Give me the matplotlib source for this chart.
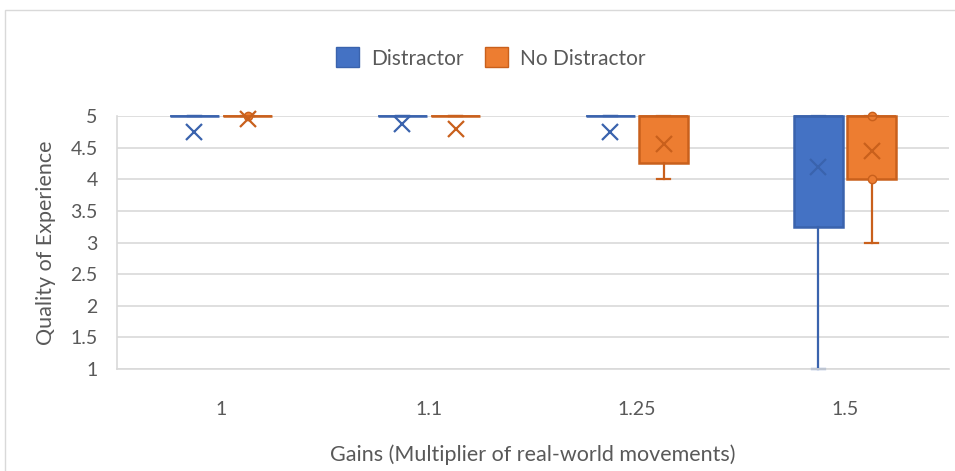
import matplotlib.pyplot as plt
from matplotlib.patches import Rectangle, Patch

plt.rcParams['font.family'] = ['Lato', 'DejaVu Sans']

gains = ['1', '1.1', '1.25', '1.5']

# box statistics per gain: Distractor
d_q1 = [5, 5, 5, 3.25]
d_med = [5, 5, 5, 5]
d_q3 = [5, 5, 5, 5]
d_lo = [5, 5, 5, 1]
d_hi = [5, 5, 5, 5]
d_mean = [4.75, 4.87, 4.75, 4.2]
d_pts = [[], [], [], []]

# box statistics per gain: No Distractor
n_q1 = [5, 5, 4.25, 4]
n_med = [5, 5, 5, 5]
n_q3 = [5, 5, 5, 5]
n_lo = [5, 5, 4, 3]
n_hi = [5, 5, 5, 5]
n_mean = [4.95, 4.8, 4.56, 4.45]
n_pts = [[5], [], [], [5, 4]]

blue, blue_edge = '#4472C4', '#3A63AD'
orange, orange_edge = '#ED7D31', '#C9601C'
grey_text = '#595959'


def make_stats(q1, med, q3, lo, hi, mean, pts):
    return [dict(q1=a, med=b, q3=c, whislo=d, whishi=e, mean=f, fliers=g)
            for a, b, c, d, e, f, g in zip(q1, med, q3, lo, hi, mean, pts)]


fig = plt.figure(figsize=(9.55, 4.71), dpi=100)
ax = fig.add_axes([117 / 955, 1 - 369 / 471, 832 / 955, 253 / 471])

# outer chart frame
fig.add_artist(Rectangle((5 / 955, -0.05), 1.0, 1 - 10 / 471 + 0.05,
                         transform=fig.transFigure, fill=False,
                         edgecolor='#d9d9d9', linewidth=1))

pos = list(range(len(gains)))
width = 0.235
offset = 0.128

for stats, shift, face, edge in [
    (make_stats(d_q1, d_med, d_q3, d_lo, d_hi, d_mean, d_pts), -offset, blue, blue_edge),
    (make_stats(n_q1, n_med, n_q3, n_lo, n_hi, n_mean, n_pts), offset, orange, orange_edge),
]:
    parts = ax.bxp(stats, positions=[p + shift for p in pos], widths=width,
                   capwidths=0.065, patch_artist=True, showmeans=True, showfliers=True,
                   boxprops=dict(facecolor=face, edgecolor=edge, linewidth=1.8),
                   medianprops=dict(color=edge, linewidth=1.2),
                   whiskerprops=dict(color=edge, linewidth=1.6),
                   capprops=dict(color=edge, linewidth=1.6),
                   meanprops=dict(marker='x', markersize=12, markeredgecolor=edge,
                                  markeredgewidth=1.6),
                   flierprops=dict(marker='o', markersize=6, markerfacecolor=face,
                                   markeredgecolor=edge))
    for group in parts.values():
        for artist in group:
            artist.set_clip_on(False)

ax.set_xlim(-0.5, 3.5)
ax.set_ylim(1, 5)
ax.set_yticks([1, 1.5, 2, 2.5, 3, 3.5, 4, 4.5, 5])
ax.set_yticklabels(['1', '1.5', '2', '2.5', '3', '3.5', '4', '4.5', '5'])
ax.set_xticks(pos)
ax.set_xticklabels(gains)
ax.tick_params(axis='both', length=0, labelsize=14, colors=grey_text)
ax.tick_params(axis='x', pad=23)
ax.tick_params(axis='y', pad=14)
ax.yaxis.grid(True, color='#d9d9d9', linewidth=1.2)
ax.set_axisbelow(True)
for side in ['top', 'right']:
    ax.spines[side].set_visible(False)
for side in ['left', 'bottom']:
    ax.spines[side].set_color('#d9d9d9')
    ax.spines[side].set_linewidth(1.2)

ax.set_ylabel('Quality of Experience', fontsize=15.5, color=grey_text, labelpad=10)
ax.set_xlabel('Gains (Multiplier of real-world movements)', fontsize=15.5,
              color=grey_text, labelpad=19)

handles = [Patch(facecolor=blue, edgecolor=blue_edge, label='Distractor'),
           Patch(facecolor=orange, edgecolor=orange_edge, label='No Distractor')]
fig.legend(handles=handles, loc='center', bbox_to_anchor=(491 / 955, 1 - 58 / 471),
           ncol=2, frameon=False, fontsize=15, labelcolor=grey_text,
           handlelength=1.1, handleheight=1.1, columnspacing=1.0, handletextpad=0.6)

fig.savefig('out.png', dpi=100)
